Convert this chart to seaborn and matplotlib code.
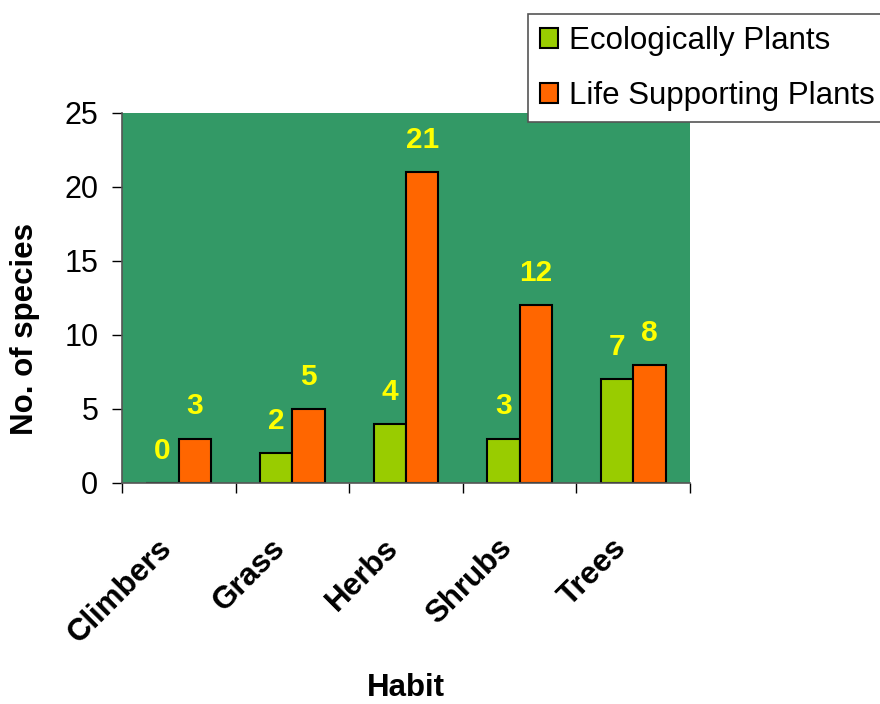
import pandas as pd
import seaborn as sns
import matplotlib.pyplot as plt
import matplotlib.transforms as mtransforms
from matplotlib.patches import Patch

habits = ["Climbers", "Grass", "Herbs", "Shrubs", "Trees"]
ecological = [0, 2, 4, 3, 7]
life_supporting = [3, 5, 21, 12, 8]
series_names = ["Ecologically Plants", "Life Supporting Plants"]
colors = ["#99CC00", "#FF6600"]

df = pd.DataFrame({
    "Habit": habits * 2,
    "Species": ecological + life_supporting,
    "Group": [series_names[0]] * len(habits) + [series_names[1]] * len(habits),
})

sns.set_style("white")
plt.rcParams["font.family"] = ["Liberation Sans", "DejaVu Sans"]
for key in ["text.color", "axes.labelcolor", "xtick.color", "ytick.color"]:
    plt.rcParams[key] = "black"

fig = plt.figure(figsize=(8.8, 7.04), dpi=100)
ax = fig.add_axes([0.1386, 0.314, 0.6455, 0.5255])
ax.set_facecolor("#339966")

sns.barplot(data=df, x="Habit", y="Species", hue="Group", palette=colors,
            saturation=1, width=0.57, edgecolor="black", linewidth=1.5,
            ax=ax, legend=False)

# value labels above bars
for container in ax.containers:
    ax.bar_label(container, padding=13, color="#FFFF00", fontsize=21.5,
                 fontweight="bold")

ax.set_ylim(0, 25)
ax.set_xlim(-0.5, 4.5)
ax.set_yticks(range(0, 26, 5))
ax.tick_params(axis="y", labelsize=22, length=7, width=1, direction="out",
               left=True, pad=10)
ax.set_xticks([i - 0.5 for i in range(6)], minor=True)
ax.tick_params(axis="x", which="major", length=0, labelsize=22.5, pad=36)
ax.tick_params(axis="x", which="minor", length=7, width=1, direction="out", bottom=True)
shift = mtransforms.ScaledTranslation(-16 / 72, 0, fig.dpi_scale_trans)
for lbl in ax.get_xticklabels():
    lbl.set_rotation(45)
    lbl.set_ha("right")
    lbl.set_rotation_mode("anchor")
    lbl.set_fontweight("bold")
    lbl.set_transform(lbl.get_transform() + shift)

for side in ["top", "right"]:
    ax.spines[side].set_visible(False)
for side in ["left", "bottom"]:
    ax.spines[side].set_color("#555555")
    ax.spines[side].set_linewidth(1.2)

ax.set_xlabel("Habit", fontsize=22.5, fontweight="bold")
ax.xaxis.set_label_coords(0.5, -0.515)
ax.set_ylabel("No. of species", fontsize=22.5, fontweight="bold")
ax.yaxis.set_label_coords(-0.144, 0.416)

handles = [Patch(facecolor=c, edgecolor="black", linewidth=1.5) for c in colors]
leg = fig.legend(handles, series_names, loc="upper left",
                 bbox_to_anchor=(0.6, 0.98), fontsize=22.5, frameon=True,
                 framealpha=1, fancybox=False, edgecolor="#555555",
                 handlelength=0.6, handleheight=0.6, handletextpad=0.35,
                 borderpad=0.37, labelspacing=0.8, borderaxespad=0)
leg.get_frame().set_linewidth(1.2)

fig.savefig("out.png", dpi=100)
